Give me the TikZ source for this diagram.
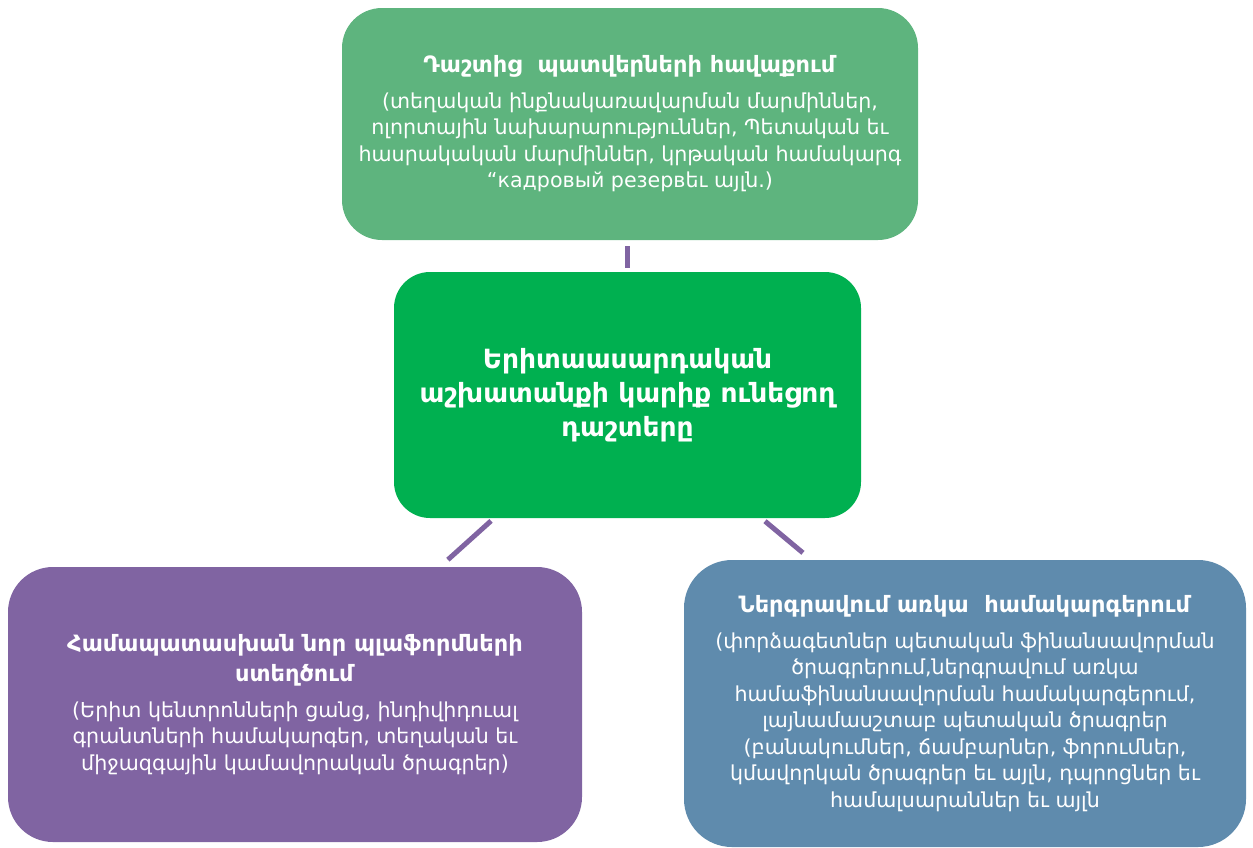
\documentclass[tikz,border=0pt]{standalone}
\usepackage{fontspec}
\setmainfont{DejaVu Sans}
\definecolor{fieldgreen}{HTML}{5EB47E}
\definecolor{coregreen}{HTML}{00B050}
\definecolor{platpurple}{HTML}{8064A2}
\definecolor{sysblue}{HTML}{5F8BAD}
\tikzset{
	card/.style={rounded corners=40pt, text=white, align=center, inner sep=0pt,
		font=\fontsize{20.6}{26.5}\selectfont},
	link/.style={line width=5pt, platpurple},
}
\newcommand{\cardtitle}[1]{{\fontsize{22.5}{30}\selectfont\textbf{#1}}\\[9pt]}

\begin{document}
\begin{tikzpicture}[x=1pt, y=-1pt]
		\useasboundingbox (0,0) rectangle (1253,847);
		% field box on top
		\node[card, fill=fieldgreen, minimum width=576pt, minimum height=232pt] (field) at (630,124)
			{\cardtitle{Դաշտից \ պատվերների հավաքում}
			(տեղական ինքնակառավարման մարմիններ,\\
			ոլորտային նախարարություններ, Պետական եւ\\
			հասրակական մարմիններ, կրթական համակարգ\\
			“кадровый резервեւ այլն.)};
		% central box
		\node[card, rounded corners=36pt, fill=coregreen, minimum width=467pt, minimum height=246pt,
			font=\bfseries\fontsize{26.5}{34}\selectfont] (core) at (627.5,395)
			{Երիտաասարդական\\
			աշխատանքի կարիք ունեցող\\
			դաշտերը};
		% platforms box
		\node[card, rounded corners=45pt, fill=platpurple, minimum width=574pt, minimum height=275pt] (plat) at (295,704.5)
			{{\fontsize{22.5}{30}\selectfont\textbf{Համապատասխան նոր պլաֆորմների}}\\[4pt]
			\cardtitle{ստեղծում}
			(Երիտ կենտրոնների ցանց, ինդիվիդուալ\\
			գրանտների համակարգեր, տեղական եւ\\
			միջազգային կամավորական ծրագրեր)};
		% systems box
		\node[card, rounded corners=48pt, fill=sysblue, minimum width=562pt, minimum height=287pt] (sys) at (965,703.5)
			{\cardtitle{Ներգրավում առկա \ համակարգերում}
			(փորձագետներ պետական ֆինանսավորման\\
			ծրագրերում,ներգրավում առկա\\
			համաֆինանսավորման համակարգերում,\\
			լայնամասշտաբ պետական ծրագրեր\\
			(բանակումներ, ճամբարներ, ֆորումներ,\\
			կմավորկան ծրագրեր եւ այլն, դպրոցներ եւ\\
			համալսարաններ եւ այլն};
		% links
		\draw[link, shorten <=6pt, shorten >=4pt] (core.north |- field.south) -- (core.north);
		\draw[link, shorten <=4pt, shorten >=10.6pt] ([xshift=-133.5pt]core.south) -- ([xshift=145pt]plat.north);
		\draw[link, shorten <=4.7pt, shorten >=10.9pt] ([xshift=133.9pt]core.south) -- ([xshift=-153.7pt]sys.north);
	\end{tikzpicture}
\end{document}
